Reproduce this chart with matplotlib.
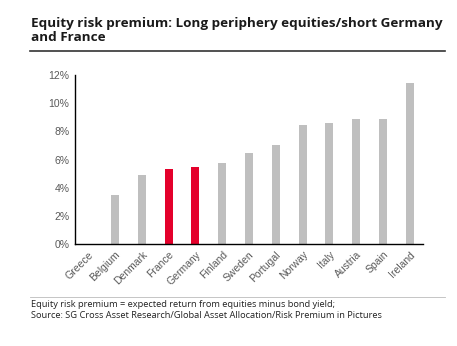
import matplotlib
matplotlib.use("Agg")
import matplotlib.pyplot as plt
from matplotlib.lines import Line2D
from matplotlib.ticker import FuncFormatter

# Data
countries = ["Greece", "Belgium", "Denmark", "France", "Germany", "Finland", "Sweden",
             "Portugal", "Norway", "Italy", "Austria", "Spain", "Ireland"]
premium = [0.0, 3.5, 4.9, 5.35, 5.5, 5.75, 6.45, 7.0, 8.45, 8.6, 8.85, 8.85, 11.4]
highlight = ["France", "Germany"]

grey = "#bfbfbf"
red = "#e4002b"
colors = [red if c in highlight else grey for c in countries]

fig = plt.figure(figsize=(4.57, 3.46), dpi=100)
ax = fig.add_axes([75 / 457, 1 - 244 / 346, (423 - 75) / 457, (244 - 75) / 346])

ax.bar(range(len(countries)), premium, width=0.3, color=colors)
ax.set_xlim(-0.5, 12.5)
ax.set_ylim(0, 12)
ax.set_yticks(range(0, 13, 2))
ax.yaxis.set_major_formatter(FuncFormatter(lambda v, p: f"{v:.0f}%"))
ax.set_xticks(range(len(countries)))
ax.set_xticklabels(countries, rotation=45, ha="right", rotation_mode="anchor")

for s in ["top", "right"]:
    ax.spines[s].set_visible(False)
for s in ["left", "bottom"]:
    ax.spines[s].set_color("black")
    ax.spines[s].set_linewidth(1.0)
ax.tick_params(length=0, labelsize=7.5, labelcolor="#595959", pad=4,
               labelfontfamily="Liberation Sans")

# title and rule
fig.text(31 / 457, 1 - 17 / 346, "Equity risk premium: Long periphery equities/short Germany\nand France",
         fontsize=9.7, fontweight="bold", family="Open Sans", color="#1a1a1a",
         va="top", ha="left", linespacing=1.1)
fig.add_artist(Line2D([30 / 457, 445 / 457], [1 - 51 / 346, 1 - 51 / 346],
                      color="#333333", lw=1.2, transform=fig.transFigure))

# footer
fig.add_artist(Line2D([30 / 457, 445 / 457], [1 - 297 / 346, 1 - 297 / 346],
                      color="#bbbbbb", lw=0.6, transform=fig.transFigure))
fig.text(31 / 457, 1 - 300 / 346,
         "Equity risk premium = expected return from equities minus bond yield;\n"
         "Source: SG Cross Asset Research/Global Asset Allocation/Risk Premium in Pictures",
         fontsize=6.7, family="Open Sans", color="#222222", va="top", ha="left",
         linespacing=1.35)

fig.savefig("out.png", dpi=100)
